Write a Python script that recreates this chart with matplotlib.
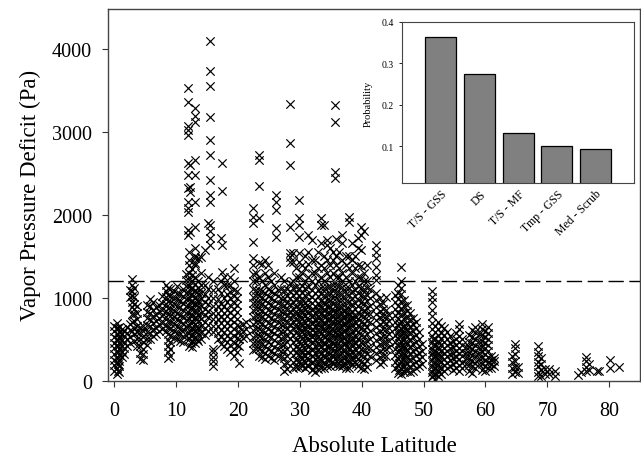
import matplotlib
matplotlib.use("Agg")
import matplotlib.pyplot as plt
from matplotlib.transforms import ScaledTranslation
import numpy as np

plt.rcParams["font.family"] = ["Liberation Serif", "DejaVu Serif"]

# scatter columns: (absolute latitude, [VPD values in Pa])
tropics = [
    (0.0, [120, 185, 250, 318, 392, 455, 528, 597, 660]),
    (0.4, [80, 148, 222, 287, 361, 433, 502, 566, 641, 690]),
    (0.6, [115, 200, 270, 345, 415, 490, 560, 630]),
    (0.8, [100, 172, 236, 313, 377, 452, 519, 588, 652]),
    (1.2, [282, 348, 423, 487, 561, 618]),
    (1.6, [322, 398, 471, 537, 604]),
    (2.0, [418, 503, 577, 652]),
    (2.5, [452, 528, 612, 679, 1003, 1098]),
    (2.8, [597, 703, 798, 884, 948, 1023, 1082, 1151, 1222]),
    (3.2, [482, 558, 641, 717, 802, 868, 921, 1004, 1118]),
    (3.7, [421, 497, 583, 659, 742, 818, 903]),
    (4.2, [262, 338, 422, 497, 583, 648]),
    (4.7, [248, 322, 388, 463, 528, 603, 662]),
    (5.3, [432, 508, 593, 668, 751, 829, 918]),
    (5.8, [502, 577, 663, 738, 822, 897, 983]),
    (6.3, [538, 623, 698, 783, 857, 952]),
    (6.8, [562, 638, 722, 797, 883]),
    (7.3, [598, 683, 757, 842, 918]),
    (7.8, [622, 698, 782, 858, 942, 1018]),
    (8.3, [603, 677, 763, 838, 922, 1003, 1077, 1152]),
    (8.7, [278, 352, 418, 493, 558, 642, 717, 803, 878, 962, 1038, 1112]),
    (9.1, [302, 377, 462, 537, 622, 698, 782, 857, 942, 1017, 1102]),
    (9.6, [518, 603, 678, 762, 838, 922, 998, 1082]),
    (10.1, [502, 577, 662, 738, 822, 897, 983, 1058, 1142]),
    (10.6, [478, 563, 638, 722, 797, 883, 957, 1042]),
    (11.1, [462, 537, 622, 698, 782, 857, 942, 1018, 1102]),
    (11.6, [548, 642, 728, 822, 897, 983, 1058, 1143, 1218, 1283]),
    (12.1, [418, 503, 577, 662, 738, 822, 897, 983, 1058, 1142, 1218, 1303, 1398, 1453, 1548]),
    (12.35, [450, 535, 615, 700, 780, 860, 945, 1030, 1110]),
    (12.6, [402, 477, 562, 638, 722, 797, 883, 957, 1042, 1118, 1203, 1278, 1352]),
    (13.1, [452, 528, 612, 688, 772, 848, 932, 1008, 1092, 1168, 1252, 1398, 1503]),
    (13.35, [500, 585, 665, 745, 830, 910, 990, 1075]),
    (13.6, [478, 563, 638, 722, 797, 883, 957, 1042, 1118, 1203, 1473]),
    (14.1, [502, 577, 662, 738, 822, 897, 983, 1058, 1152, 1302, 1494]),
    (14.6, [548, 633, 708, 792, 868, 952, 1048, 1153, 1574]),
    (15.1, [602, 677, 762, 838, 922, 998, 1102, 1248, 1895]),
    (15.9, [178, 232, 288, 342, 388, 582, 658, 742, 818, 903, 1002, 1098, 1203]),
    (16.8, [502, 577, 662, 738, 822, 897, 983, 1102]),
    (17.3, [448, 532, 608, 692, 768, 852, 928, 1052, 1198, 1714]),
    (17.8, [422, 497, 583, 658, 742, 818, 903, 998, 1152, 1248]),
    (18.3, [378, 463, 538, 622, 698, 782, 857, 952, 1048, 1152]),
    (18.8, [352, 428, 512, 588, 672, 748, 832, 908, 992, 1068, 1152, 1252]),
    (19.3, [298, 382, 458, 542, 618, 702, 778, 862, 938, 1022, 1098, 1203, 1353]),
    (19.8, [352, 428, 512, 588, 672, 748, 832, 908, 992, 1082]),
    (20.2, [208, 422, 497, 583, 658]),
    (20.8, [518, 603, 678]),
    (21.3, [542, 618, 702]),
]

subtropics = [
    (22.4, [368, 452, 528, 612, 688, 772, 848, 932, 1008, 1102, 1198, 1282, 1393, 1473, 1674, 1895, 1976, 2076]),
    (22.9, [382, 458, 542, 618, 702, 778, 862, 938, 1022, 1098, 1203, 1302]),
    (23.4, [298, 382, 458, 542, 618, 702, 778, 862, 938, 1022, 1098, 1252, 1413, 1955, 2349, 2658, 2718]),
    (23.9, [282, 358, 442, 518, 602, 678, 762, 838, 922, 998, 1082, 1198, 1403]),
    (24.4, [262, 338, 422, 497, 583, 658, 742, 818, 903, 978, 1062, 1148, 1302, 1453]),
    (24.9, [302, 377, 462, 537, 622, 698, 782, 857, 942, 1017, 1102, 1252, 1398]),
    (25.4, [278, 363, 438, 522, 598, 682, 758, 842, 918, 1002, 1078, 1203]),
    (25.9, [252, 328, 412, 488, 572, 648, 732, 808, 892, 968, 1052, 1148, 1302]),
    (26.2, [1735, 1835, 2055, 2157, 2237]),
    (26.4, [298, 382, 458, 542, 618, 702, 778, 862, 938, 1022, 1098]),
    (26.9, [282, 358, 442, 518, 602, 678, 762, 838, 922, 998, 1102, 1252]),
    (27.4, [118, 202, 278, 362, 438, 522, 598, 682, 758, 842, 918, 1002, 1098, 1203]),
    (27.9, [142, 218, 302, 377, 462, 537, 622, 698, 782, 857, 942, 1017, 1102]),
    (28.4, [518, 603, 678, 762, 838, 922, 998, 1082, 1178, 1434, 1494, 1534, 1855, 2598, 2859, 3329]),
    (28.9, [152, 228, 312, 388, 472, 548, 632, 708, 792, 868, 952, 1028, 1112, 1198, 1434, 1534]),
    (29.4, [168, 252, 328, 412, 488, 572, 648, 732, 808, 892, 968, 1052, 1128, 1252, 1353]),
    (29.9, [162, 238, 322, 398, 482, 558, 642, 718, 802, 878, 962, 1038, 1122, 1252, 1434, 1534, 1735, 1875, 1955, 2176]),
    (30.15, [210, 290, 375, 455, 540, 610, 695, 770, 850, 935]),
    (30.4, [178, 262, 338, 422, 497, 583, 658, 742, 818, 903, 978, 1062, 1138, 1302, 1398]),
    (30.9, [152, 228, 312, 388, 472, 548, 632, 708, 792, 868, 952, 1028, 1112, 1198, 1353, 1503]),
    (31.15, [190, 275, 350, 430, 515, 600, 675, 760, 835, 915]),
    (31.4, [172, 248, 332, 408, 492, 568, 652, 728, 812, 888, 972, 1048, 1132, 1248, 1403, 1553, 1754]),
    (31.9, [132, 208, 292, 368, 452, 528, 612, 688, 772, 848, 932, 1008, 1092, 1198, 1302, 1453, 1694]),
    (32.15, [140, 225, 300, 385, 470, 545, 625, 710, 790, 870]),
    (32.4, [102, 178, 262, 338, 422, 497, 583, 658, 742, 818, 903, 978, 1062, 1148, 1302, 1453]),
    (32.9, [138, 222, 298, 382, 458, 542, 618, 702, 778, 862, 938, 1022, 1098, 1203, 1353, 1553]),
    (33.15, [185, 265, 345, 430, 505, 590, 670, 750, 830, 915]),
    (33.4, [158, 242, 318, 402, 478, 562, 638, 722, 798, 882, 958, 1042, 1118, 1252, 1398, 1654, 1875, 1955]),
]

midlat = [
    (33.9, [152, 228, 312, 388, 472, 548, 632, 708, 792, 868, 952, 1028, 1112, 1198, 1353, 1503, 1875]),
    (34.15, [205, 285, 370, 445, 530, 610, 690, 770, 855, 930]),
    (34.4, [172, 248, 332, 408, 492, 568, 652, 728, 812, 888, 972, 1048, 1132, 1302, 1453, 1634, 1694]),
    (34.9, [178, 262, 338, 422, 497, 583, 658, 742, 818, 903, 978, 1062, 1138, 1252, 1398, 1603]),
    (35.15, [230, 310, 395, 470, 555, 630, 715, 795, 870]),
    (35.4, [198, 282, 358, 442, 518, 602, 678, 762, 838, 922, 998, 1082, 1158, 1302, 1453, 1553]),
    (35.7, [2437, 2518, 3120, 3321]),
    (35.9, [192, 268, 352, 428, 512, 588, 672, 748, 832, 908, 992, 1068, 1152, 1252, 1398, 1503, 1703]),
    (36.15, [215, 300, 380, 460, 545, 620, 705, 785, 860]),
    (36.4, [178, 262, 338, 422, 497, 583, 658, 742, 818, 903, 978, 1062, 1138, 1252, 1353, 1553]),
    (36.9, [172, 248, 332, 408, 492, 568, 652, 728, 812, 888, 972, 1048, 1132, 1198, 1302, 1453, 1654, 1754]),
    (37.15, [190, 275, 355, 440, 515, 600, 680, 765, 840]),
    (37.4, [158, 242, 318, 402, 478, 562, 638, 722, 798, 882, 958, 1042, 1118, 1252, 1398, 1503]),
    (37.9, [152, 228, 312, 388, 472, 548, 632, 708, 792, 868, 952, 1028, 1112, 1198, 1353, 1503, 1915, 1976]),
    (38.15, [240, 320, 400, 485, 565, 645, 730, 805]),
    (38.4, [198, 282, 358, 442, 518, 602, 678, 762, 838, 922, 998, 1082, 1158, 1302, 1453, 1654]),
    (38.9, [222, 298, 382, 458, 542, 618, 702, 778, 862, 938, 1022, 1098, 1198, 1353, 1503]),
    (39.15, [205, 290, 365, 450, 530, 610, 695, 770]),
    (39.4, [178, 262, 338, 422, 497, 583, 658, 742, 818, 903, 978, 1062, 1138, 1252, 1398, 1594, 1714]),
    (39.9, [152, 228, 312, 388, 472, 548, 632, 708, 792, 868, 952, 1028, 1112, 1232, 1377, 1573, 1754, 1855]),
    (40.4, [142, 218, 302, 377, 462, 537, 622, 698, 782, 857, 942, 1017, 1102, 1198, 1302, 1800]),
    (40.9, [162, 238, 322, 398, 482, 558, 642, 718, 802, 878, 962, 1038, 1122, 1203, 1398]),
    (41.4, [302, 398, 503, 597, 703, 798, 903, 998, 1102]),
    (42.4, [252, 328, 412, 488, 572, 648, 732, 808, 892, 968, 1052, 1213, 1273, 1373, 1473, 1554, 1634]),
    (42.9, [198, 282, 358, 442, 518, 602, 678, 762, 838, 922, 998]),
    (43.4, [222, 298, 382, 458, 542, 618, 702, 778, 862, 938]),
    (43.9, [302, 377, 462, 537, 622, 698, 782, 857, 1003]),
    (44.4, [402, 477, 562, 638, 722, 797]),
    (45.4, [152, 228, 312, 388, 472, 548, 632, 708, 792, 868, 952, 1028]),
    (45.9, [98, 182, 258, 342, 418, 502, 578, 662, 738, 822, 898, 982, 1058, 1148]),
    (46.05, [130, 210, 295, 370, 455, 535, 615, 700]),
    (46.3, [82, 158, 242, 318, 402, 478, 562, 638, 722, 798, 882, 958, 1042, 1118, 1198, 1373]),
    (46.8, [102, 178, 262, 338, 422, 497, 583, 658, 742, 818, 903, 978]),
    (47.05, [140, 225, 305, 390, 470, 550, 630]),
    (47.3, [118, 202, 278, 362, 438, 522, 598, 682, 758, 842, 918]),
    (47.8, [102, 178, 262, 338, 422, 497, 583, 658, 742, 818]),
    (48.3, [118, 202, 278, 362, 438, 522, 598, 682, 758]),
    (48.8, [152, 228, 312, 388, 472, 548, 632, 708]),
    (49.3, [178, 262, 338, 422, 497, 583]),
    (49.8, [198, 282, 358, 442]),
]

highlat = [
    (51.3, [42, 108, 182, 248, 322, 388, 462, 538, 622, 698, 782, 858, 952, 1008, 1082]),
    (51.55, [70, 140, 215, 285, 350, 425, 500]),
    (51.8, [22, 78, 152, 218, 292, 358, 432, 498, 582, 658]),
    (52.3, [58, 132, 198, 272, 338, 412, 478, 552, 618, 702]),
    (52.55, [100, 170, 240, 315, 385, 455]),
    (52.8, [82, 148, 222, 288, 362, 428, 502, 578, 662]),
    (53.3, [118, 192, 258, 332, 398, 472, 548, 632]),
    (53.8, [152, 218, 292, 358, 432, 508, 592]),
    (54.3, [178, 252, 318, 392, 458, 542]),
    (54.8, [132, 198, 272, 338, 412, 478]),
    (55.3, [148, 222, 288, 362, 428, 502, 578]),
    (55.8, [118, 192, 258, 332, 398, 472, 538, 622, 688]),
    (56.3, [152, 218, 292, 358, 432, 498]),
    (56.8, [198, 272, 338, 412]),
    (57.4, [122, 188, 262, 328, 402, 468, 552]),
    (57.9, [98, 172, 238, 312, 378, 452, 528, 612]),
    (58.4, [152, 218, 292, 358, 432, 498, 582, 648]),
    (58.9, [198, 272, 338, 412, 478, 562]),
    (59.4, [128, 202, 268, 342, 408, 482, 548, 622, 682]),
    (59.9, [112, 178, 252, 318, 392, 458, 532, 598]),
    (60.4, [148, 222, 288, 362, 428, 502, 578, 652]),
    (60.9, [152, 198, 252, 302]),
    (61.4, [178, 232, 278]),
    (64.3, [82, 148, 222, 298]),
    (64.8, [102, 168, 242, 318, 398, 438]),
    (65.3, [98, 162]),
    (68.5, [52, 108, 172, 228, 292, 348, 422]),
    (69.0, [62, 128, 198, 272]),
    (69.6, [82, 138]),
    (70.3, [78, 142]),
    (71.2, [62, 118]),
    (74.9, [72]),
    (75.5, [102]),
    (76.2, [112, 168, 232, 282]),
    (76.8, [128, 198]),
    (78.0, [112]),
    (78.3, [122]),
    (80.2, [158, 252]),
    (81.6, [162]),
]

outliers = [
    (11.9, [1754, 1822, 2036, 2076, 2157, 2317, 2477, 2618, 2959, 3019, 3072, 3353, 3530]),
    (12.3, [1795, 2277, 2337, 2598]),
    (13.0, [1413, 1473, 1594, 1855, 2157, 2477, 2658, 3120, 3193, 3289]),
    (15.5, [1634, 1714, 1802, 1875, 2157, 2237, 2417, 2718, 2899, 3181, 3550, 3730, 4092]),
    (17.4, [1313, 1634, 2284, 2618]),
]

zone_labels = ["T/S - GSS", "DS", "T/S - MF", "Tmp - GSS", "Med - Scrub"]
zone_prob = [0.363, 0.274, 0.131, 0.100, 0.094]

threshold_vpd = 1200

lat, vpd = [], []
for group in (tropics, subtropics, midlat, highlat, outliers):
    for x, ys in group:
        lat.extend([x] * len(ys))
        vpd.extend(ys)
lat = np.array(lat)
vpd = np.array(vpd)

fig = plt.figure(figsize=(6.41, 4.60), dpi=100)
ax = fig.add_axes([0.1685, 0.1702, 0.8300, 0.8081])
ax.scatter(lat, vpd, marker="x", s=36, c="black", linewidths=0.85, zorder=2)
ax.axhline(threshold_vpd, color="black", lw=1.0, dashes=(11, 4), zorder=3)

ax.set_xlim(-1, 85)
ax.set_ylim(0, 4480)
ax.set_xticks(range(0, 90, 10))
ax.set_yticks(range(0, 5000, 1000))
ax.tick_params(direction="out", length=4.5, width=0.8, labelsize=14.5, color="#333333")
ax.tick_params(axis="x", pad=10)
ax.tick_params(axis="y", pad=7)
for sp in ax.spines.values():
    sp.set_color("#444444")
    sp.set_linewidth(1.0)
ax.set_xlabel("Absolute Latitude", fontsize=16.5, labelpad=11)
ax.set_ylabel("Vapor Pressure Deficit (Pa)", fontsize=16.5, labelpad=8)

# inset: probability per zone
ins = fig.add_axes([0.6276, 0.5993, 0.3619, 0.3507])
ins.set_facecolor("white")
ins.set_zorder(5)
ins.bar(range(len(zone_labels)), zone_prob, width=0.8, color="#808080",
        edgecolor="black", linewidth=0.9)
ins.set_xlim(-1, 5)
ins.set_ylim(0.01, 0.4)
ins.set_yticks([0.1, 0.2, 0.3, 0.4])
ins.set_xticks(range(len(zone_labels)))
ins.set_xticklabels(zone_labels, rotation=45, ha="right", rotation_mode="anchor", fontsize=8.5)
shift = ScaledTranslation(5 / 72, 0, fig.dpi_scale_trans)
for lbl in ins.get_xticklabels():
    lbl.set_transform(lbl.get_transform() + shift)
ins.tick_params(axis="x", length=0, pad=3)
ins.tick_params(axis="y", direction="out", length=2.5, width=0.6, labelsize=7)
ins.set_ylabel("Probability", fontsize=7.5, labelpad=6)
for sp in ins.spines.values():
    sp.set_color("#444444")
    sp.set_linewidth(0.8)

fig.savefig("out.png", dpi=100)
